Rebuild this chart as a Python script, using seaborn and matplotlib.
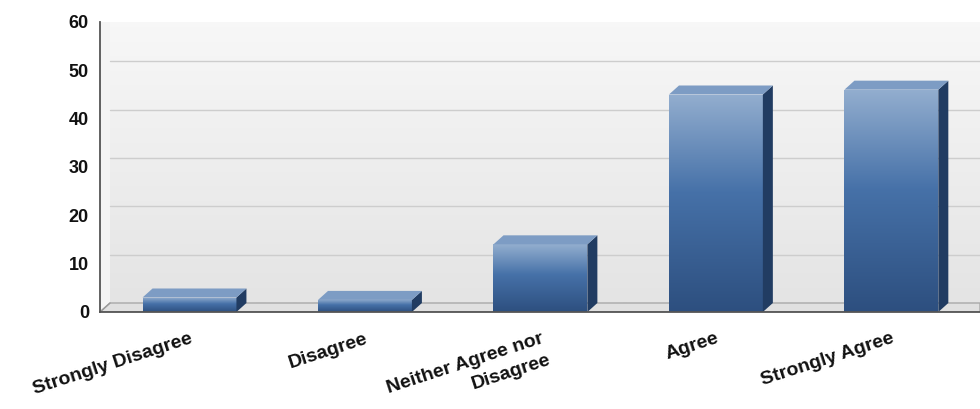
import numpy as np
import pandas as pd
import matplotlib
matplotlib.use("Agg")
import matplotlib.pyplot as plt
import seaborn as sns
from matplotlib.patches import Polygon
from matplotlib.colors import LinearSegmentedColormap

categories = ["Strongly Disagree", "Disagree", "Neither Agree nor\nDisagree", "Agree", "Strongly Agree"]
values = [3, 2.5, 14, 45, 46]
yticks = [0, 10, 20, 30, 40, 50, 60]

sns.set_theme(style="white")
plt.rcParams['font.family'] = ['Liberation Sans', 'DejaVu Sans']

fig = plt.figure(figsize=(9.8, 4.09), dpi=100)
ax = fig.add_axes([100/980, 97/409, 880/980, 290/409])
df = pd.DataFrame({"cat": categories, "val": values})
sns.barplot(data=df, x="cat", y="val", ax=ax, width=0.535, color="#3f6aa0", saturation=1)
bars = list(ax.patches)

x0l, x1l = -0.51, 4.505
ax.set_xlim(x0l, x1l)
ax.set_ylim(0, 60)
ax.set_facecolor("white")

# depth offsets (data units)
dx = 10 / 175.5
dy = 9 / (290 / 60)

# back wall gradient
wall_cmap = LinearSegmentedColormap.from_list("wall", ["#e4e4e4", "#f8f8f8"])
ax.imshow(np.linspace(0, 1, 256).reshape(-1, 1), cmap=wall_cmap, aspect="auto",
          extent=[x0l + dx, x1l, dy, 60 + dy], origin="lower", zorder=0)
# left wall
ax.add_patch(Polygon([(x0l, 0), (x0l, 60), (x0l + dx, 60 + dy), (x0l + dx, dy)],
                     closed=True, facecolor="#f4f4f4", edgecolor="none", zorder=0.5))
# floor
ax.add_patch(Polygon([(x0l, 0), (x0l + dx, dy), (x1l, dy), (x1l, 0)],
                     closed=True, facecolor="#e0e0e0", edgecolor="#a8a8a8", lw=1, zorder=0.6))
# gridlines on back wall
for t in yticks[1:]:
    ax.plot([x0l + dx, x1l], [t + dy, t + dy], color="#cdcdcd", lw=1, zorder=0.7)
ax.plot([x0l, x0l + dx], [0, dy], color="#9a9a9a", lw=1, zorder=0.7)
ax.set_xlim(x0l, x1l)
ax.set_ylim(0, 60)

front_cmap = LinearSegmentedColormap.from_list(
    "front", [(0, "#2d4f7f"), (0.55, "#4671a8"), (1, "#93aecf")])
for b in bars:
    x = b.get_x(); w = b.get_width(); h = b.get_height()
    b.set_facecolor("none"); b.set_edgecolor("none"); b.set_zorder(3)
    im = ax.imshow(np.linspace(0, 1, 256).reshape(-1, 1), cmap=front_cmap, aspect="auto",
                   extent=[x, x + w, 0, h], origin="lower", zorder=3)
    im.set_clip_path(b)
    ax.add_patch(Polygon([(x + w, 0), (x + w + dx, dy), (x + w + dx, h + dy), (x + w, h)],
                         closed=True, facecolor="#213c62", edgecolor="none", zorder=3))
    ax.add_patch(Polygon([(x, h), (x + dx, h + dy), (x + w + dx, h + dy), (x + w, h)],
                         closed=True, facecolor="#7d9cc4", edgecolor="none", zorder=3))
ax.set_xlim(x0l, x1l)
ax.set_ylim(0, 60)

ax.set_xlabel("")
ax.set_ylabel("")
ax.set_yticks(yticks)
ax.set_yticklabels([str(t) for t in yticks], fontweight="bold", fontsize=13, color="#111111")
ax.set_xticks(range(len(categories)))
ax.set_xticklabels(categories, rotation=18, ha="right", va="top", rotation_mode="anchor",
                   fontweight="bold", fontsize=14, color="#111111", multialignment="right",
                   linespacing=1.4)
for s in ["top", "right"]:
    ax.spines[s].set_visible(False)
for s in ["left", "bottom"]:
    ax.spines[s].set_color("#555555")
    ax.spines[s].set_linewidth(1.3)
    ax.spines[s].set_zorder(5)
ax.tick_params(direction="out", length=5, width=1, color="#555555", pad=3)
ax.tick_params(axis="x", pad=8)

fig.savefig("out.png", dpi=100)
